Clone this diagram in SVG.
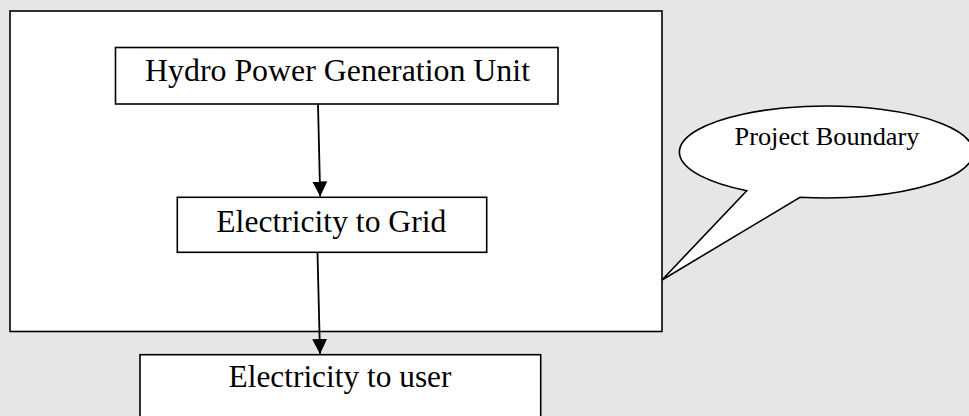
<svg xmlns="http://www.w3.org/2000/svg" width="969" height="416" viewBox="0 0 969 416">
<style>
.box{fill:#fff;stroke:#000;stroke-width:1.6}
.t{font-family:"Liberation Serif","Times New Roman",serif;fill:#000;text-anchor:middle}
.conn{stroke:#000;stroke-width:1.8;fill:none;marker-end:url(#ah)}
</style>
<defs>
<marker id="ah" markerUnits="userSpaceOnUse" markerWidth="15" markerHeight="15" viewBox="0 0 15 15" refX="15" refY="7.5" orient="auto">
<path d="M0,0 L15,7.5 L0,15 Z" fill="#000"/>
</marker>
</defs>
<rect x="0" y="0" width="969" height="416" fill="#e6e6e6"/>
<g id="boundary">
<rect class="box" x="10" y="11" width="652" height="320.5"/>
</g>
<g id="callout">
<path class="box" d="M800,197.3 A147,46 0 1 0 746.7,190.7 L662,280 Z"/>
<text class="t" x="827" y="145" font-size="25" textLength="185" lengthAdjust="spacingAndGlyphs">Project Boundary</text>
</g>
<g id="hydro">
<rect class="box" x="115.5" y="47.5" width="442.5" height="56.5"/>
<text class="t" x="337.5" y="81" font-size="31" textLength="385" lengthAdjust="spacingAndGlyphs">Hydro Power Generation Unit</text>
</g>
<g id="grid">
<rect class="box" x="177.3" y="197.3" width="309.4" height="55"/>
<text class="t" x="331.3" y="231.7" font-size="31" textLength="230" lengthAdjust="spacingAndGlyphs">Electricity to Grid</text>
</g>
<g id="user">
<rect class="box" x="140" y="354.7" width="400.7" height="70"/>
<text class="t" x="340" y="387.3" font-size="31" textLength="223" lengthAdjust="spacingAndGlyphs">Electricity to user</text>
</g>
<g id="connectors">
<line class="conn" x1="318" y1="104.5" x2="320.2" y2="196.5"/>
<line class="conn" x1="317.5" y1="253" x2="320" y2="354"/>
</g>
</svg>
